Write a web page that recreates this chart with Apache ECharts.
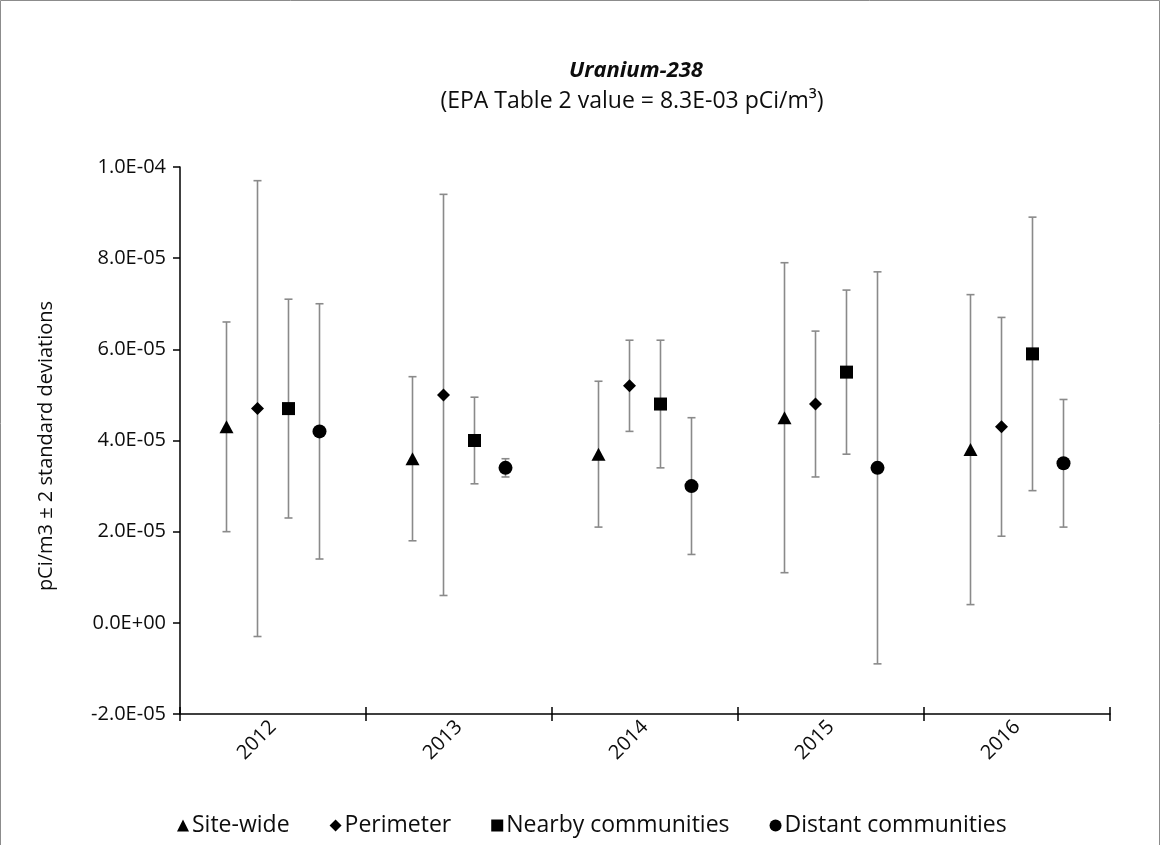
<!DOCTYPE html>
<html>
<head>
<meta charset="utf-8">
<script src="https://cdn.jsdelivr.net/npm/echarts@6/dist/echarts.min.js"></script>
<style>
html,body{margin:0;padding:0;background:#fff;}
#chart{width:1161px;height:845px;}
</style>
</head>
<body>
<div id="chart"></div>
<script>
// ---- Data ----
const categories = ['2012', '2013', '2014', '2015', '2016'];
const seriesNames = ['Site-wide', 'Perimeter', 'Nearby communities', 'Distant communities'];

const siteWide      = [4.3e-5, 3.6e-5, 3.7e-5, 4.5e-5, 3.8e-5];
const siteWideLow   = [2.0e-5, 1.8e-5, 2.1e-5, 1.1e-5, 0.4e-5];
const siteWideHigh  = [6.6e-5, 5.4e-5, 5.3e-5, 7.9e-5, 7.2e-5];

const perimeter     = [4.7e-5, 5.0e-5, 5.2e-5, 4.8e-5, 4.3e-5];
const perimeterLow  = [-0.3e-5, 0.6e-5, 4.2e-5, 3.2e-5, 1.9e-5];
const perimeterHigh = [9.7e-5, 9.4e-5, 6.2e-5, 6.4e-5, 6.7e-5];

const nearby        = [4.7e-5, 4.0e-5, 4.8e-5, 5.5e-5, 5.9e-5];
const nearbyLow     = [2.3e-5, 3.05e-5, 3.4e-5, 3.7e-5, 2.9e-5];
const nearbyHigh    = [7.1e-5, 4.95e-5, 6.2e-5, 7.3e-5, 8.9e-5];

const distant       = [4.2e-5, 3.4e-5, 3.0e-5, 3.4e-5, 3.5e-5];
const distantLow    = [1.4e-5, 3.2e-5, 1.5e-5, -0.9e-5, 2.1e-5];
const distantHigh   = [7.0e-5, 3.6e-5, 4.5e-5, 7.7e-5, 4.9e-5];

const yMin = -2e-5, yMax = 1e-4, yInterval = 2e-5;

// ---- Build options ----
const FONT = '"Open Sans"';
const TXT = '#0d0d0d';
const values = [siteWide, perimeter, nearby, distant];
const lows = [siteWideLow, perimeterLow, nearbyLow, distantLow];
const highs = [siteWideHigh, perimeterHigh, nearbyHigh, distantHigh];
const symbols = ['triangle', 'diamond', 'rect', 'circle'];
const symbolSizes = [[14, 13], [13, 13], [13, 13], [14, 14]];
const offsets = [-0.25, -0.0833, 0.0833, 0.25];

function fmtE(v) {
  if (Math.abs(v) < 1e-12) v = 0;
  let s = v.toExponential(1);
  const m = s.match(/^(-?\d\.\d)e([+-])(\d+)$/);
  if (!m) return s;
  return m[1] + 'E' + m[2] + m[3].padStart(2, '0');
}

const series = [];
// error bars
values.forEach((vals, si) => {
  series.push({
    type: 'custom',
    xAxisIndex: 2,
    yAxisIndex: 0,
    silent: true,
    z: 2,
    encode: { x: 0, y: [1, 2] },
    data: vals.map((v, i) => [i + offsets[si], lows[si][i], highs[si][i]]),
    renderItem: function (params, api) {
      const x = api.value(0);
      const pLo = api.coord([x, api.value(1)]);
      const pHi = api.coord([x, api.value(2)]);
      const cw = 4;
      const st = { stroke: '#8a8a8a', lineWidth: 1.6 };
      return {
        type: 'group',
        children: [
          { type: 'line', shape: { x1: pLo[0], y1: pLo[1], x2: pHi[0], y2: pHi[1] }, style: st },
          { type: 'line', shape: { x1: pLo[0] - cw, y1: pLo[1], x2: pLo[0] + cw, y2: pLo[1] }, style: st },
          { type: 'line', shape: { x1: pHi[0] - cw, y1: pHi[1], x2: pHi[0] + cw, y2: pHi[1] }, style: st }
        ]
      };
    }
  });
});
// markers
values.forEach((vals, si) => {
  series.push({
    name: seriesNames[si],
    type: 'scatter',
    xAxisIndex: 2,
    yAxisIndex: 0,
    z: 5,
    symbol: symbols[si],
    symbolSize: symbolSizes[si],
    itemStyle: { color: '#000', opacity: 1 },
    data: vals.map((v, i) => [i + offsets[si], v])
  });
});

const chart = echarts.init(document.getElementById('chart'), null, { renderer: 'canvas' });
chart.setOption({
  backgroundColor: '#fff',
  animation: false,
  textStyle: { fontFamily: FONT },
  grid: { left: 180, right: 51, top: 167, bottom: 131, containLabel: false },
  graphic: [
    { type: 'rect', shape: { x: 0.5, y: 0.5, width: 1159, height: 900 }, style: { fill: 'none', stroke: '#8c8c8c', lineWidth: 1 }, silent: true },
    { type: 'text', x: 636, y: 71, style: { text: 'Uranium-238', font: 'italic bold 22px ' + FONT, fill: TXT, textAlign: 'center', textVerticalAlign: 'middle' } },
    { type: 'text', x: 632, y: 101, style: { text: '(EPA Table 2 value = 8.3E-03 pCi/m³)', font: '23px ' + FONT, fill: TXT, textAlign: 'center', textVerticalAlign: 'middle' } },
    { type: 'text', x: 46, y: 446, rotation: Math.PI / 2, style: { text: 'pCi/m3 ± 2 standard deviations', font: '20px ' + FONT, fill: TXT, textAlign: 'center', textVerticalAlign: 'middle' } }
  ],
  legend: {
    data: seriesNames.map((n, i) => ({ name: n, icon: symbols[i] })),
    left: 172,
    top: 809,
    itemWidth: 12,
    itemHeight: 12,
    itemGap: 40,
    textStyle: { fontFamily: FONT, fontSize: 23, color: TXT, padding: [0, 0, 0, -2] },
    selectedMode: false
  },
  xAxis: [
    {
      type: 'category',
      data: categories,
      boundaryGap: true,
      position: 'bottom',
      axisLine: { onZero: false, lineStyle: { color: '#000', width: 1.5 } },
      axisTick: { show: true, inside: false, length: 7, lineStyle: { color: '#000', width: 1.5 } },
      axisLabel: { rotate: 45, fontSize: 20, color: TXT, fontFamily: FONT, margin: 10 },
      splitLine: { show: false }
    },
    {
      type: 'category',
      data: categories,
      boundaryGap: true,
      position: 'bottom',
      axisLine: { show: false, onZero: false },
      axisTick: { show: true, inside: true, length: 7, lineStyle: { color: '#000', width: 1.5 } },
      axisLabel: { show: false },
      splitLine: { show: false }
    },
    {
      type: 'value',
      min: -0.5,
      max: categories.length - 0.5,
      show: false,
      splitLine: { show: false }
    }
  ],
  yAxis: [{
    type: 'value',
    min: yMin,
    max: yMax,
    interval: yInterval,
    axisLine: { show: true, onZero: false, lineStyle: { color: '#000', width: 1.5 } },
    axisTick: { show: true, inside: false, length: 7, lineStyle: { color: '#000', width: 1.5 } },
    axisLabel: { formatter: fmtE, fontSize: 20, color: TXT, fontFamily: FONT, margin: 14 },
    splitLine: { show: false }
  }],
  series: series
});
</script>
</body>
</html>
